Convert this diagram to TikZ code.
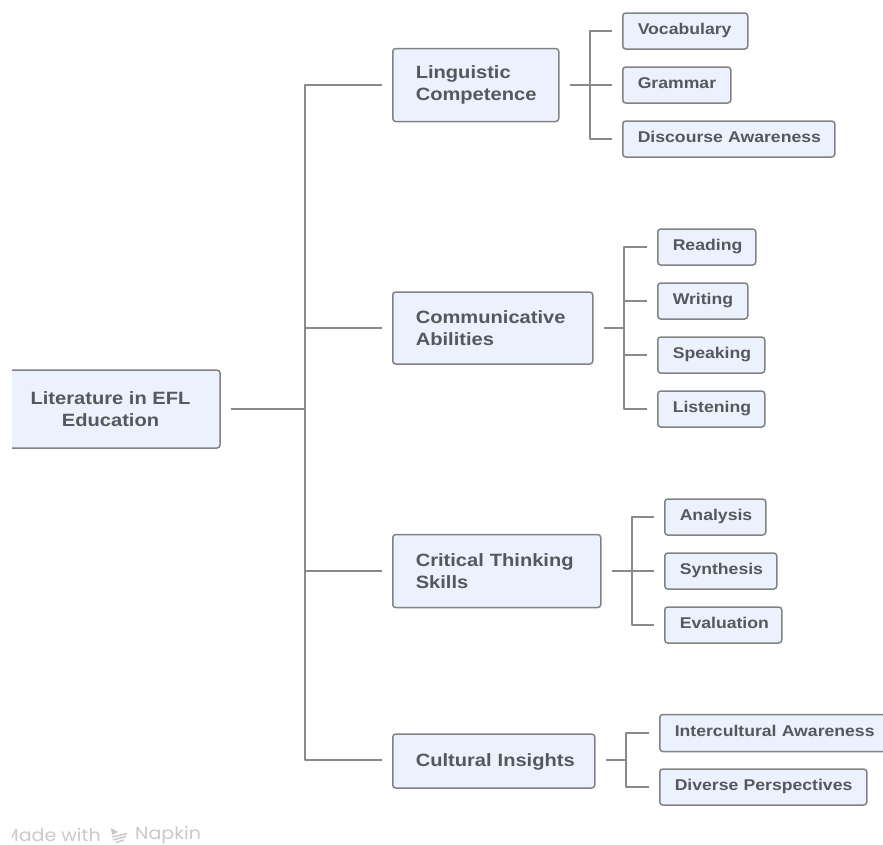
\documentclass[tikz,border=0pt]{standalone}
\usepackage{fontspec}
\setmainfont{Liberation Sans}[FakeStretch=1.13]
\newfontfamily\brandfont{Poppins}[FakeStretch=1.1]
\definecolor{boxfill}{HTML}{EBF1FD}
\definecolor{boxline}{HTML}{808284}
\definecolor{conn}{HTML}{8A8A8A}
\definecolor{ink}{HTML}{55585C}
\definecolor{brandgray}{HTML}{C9C9C9}
\tikzset{
  bx/.style={draw=boxline,fill=boxfill,line width=1.5pt,rounded corners=3pt,text=ink,inner sep=0pt,anchor=west,align=left},
  bigbox/.style 2 args={bx,minimum width=#1,minimum height=#2,font=\fontsize{17.8}{22}\selectfont\bfseries},
  leafbox/.style 2 args={bx,minimum width=#1,minimum height=#2,text width=#1-30pt,text height=12pt,text depth=5pt,font=\fontsize{15.6}{18}\selectfont\bfseries},
  wire/.style={draw=conn,line width=1.7pt,line join=round},
  brand/.style={inner sep=0pt,text=brandgray,font=\brandfont\fontsize{17.3}{19}\selectfont},
}
\begin{document}
\begin{tikzpicture}[x=1pt,y=-1pt]
\useasboundingbox (0,0) rectangle (883,844);
\begin{scope}
\clip (12,0) rectangle (883,844);
\node[bigbox={219pt}{78pt},align=center,anchor=center] (root) at (110.5,409) {Literature in EFL\\Education};
\node[bigbox={166pt}{73pt},text width=120pt] (ling) at (392,85) {Linguistic\\Competence};
\node[bigbox={200pt}{72pt},text width=154pt] (comm) at (392,328) {Communicative\\Abilities};
\node[bigbox={208pt}{73pt},text width=162pt] (crit) at (392,571) {\mbox{Critical Thinking}\\Skills};
\node[bigbox={202pt}{54pt},text width=156pt,text height=15pt,text depth=4pt] (cult) at (392,761) {\mbox{Cultural Insights}};
\node[leafbox={125pt}{36pt}] (voc) at (622,31) {Vocabulary};
\node[leafbox={108pt}{36pt}] (gram) at (622,85) {Grammar};
\node[leafbox={212pt}{36pt}] (disc) at (622,139) {\mbox{Discourse Awareness}};
\node[leafbox={98pt}{36pt}] (read) at (657,247) {Reading};
\node[leafbox={90pt}{36pt}] (writ) at (657,301) {Writing};
\node[leafbox={107pt}{36pt}] (spea) at (657,355) {Speaking};
\node[leafbox={107pt}{36pt}] (list) at (657,409) {Listening};
\node[leafbox={101pt}{36pt}] (anal) at (664,517) {Analysis};
\node[leafbox={112pt}{36pt}] (synt) at (664,571) {Synthesis};
\node[leafbox={117pt}{36pt}] (eval) at (664,625) {Evaluation};
\node[leafbox={231pt}{37pt}] (inte) at (659,733) {\mbox{Intercultural Awareness}};
\node[leafbox={207pt}{36pt}] (dive) at (659,787) {\mbox{Diverse Perspectives}};
\coordinate (trunk) at (305,409);
\coordinate (lingb) at (590,85);
\coordinate (commb) at (624,328);
\coordinate (critb) at (632,571);
\coordinate (cultb) at (626,760);
\coordinate (cultl) at ([xshift=-10pt]cult.west);
\coordinate (cultr) at ([xshift=10pt]cult.east);
\draw[wire] ([xshift=10pt]root.east) -- (trunk);
\draw[wire] ([xshift=-10pt]ling.west) -- (ling.west -| trunk) -- (cultb -| trunk) -- (cultb -| cultl);
\draw[wire] ([xshift=-10pt]comm.west) -- (comm.west -| trunk);
\draw[wire] ([xshift=-10pt]crit.west) -- (crit.west -| trunk);
\draw[wire] ([xshift=10pt]ling.east) -- (lingb);
\draw[wire] ([xshift=10pt]comm.east) -- (commb);
\draw[wire] ([xshift=10pt]crit.east) -- (critb);
\draw[wire] (cultb -| cultr) -- (cultb);
\draw[wire] ([xshift=-10pt]voc.west) -- (voc.west -| lingb) -- (disc.west -| lingb) -- ([xshift=-10pt]disc.west);
\draw[wire] (lingb) -- ([xshift=-10pt]gram.west);
\draw[wire] ([xshift=-10pt]read.west) -- (read.west -| commb) -- (list.west -| commb) -- ([xshift=-10pt]list.west);
\draw[wire] ([xshift=-10pt]writ.west) -- (writ.west -| commb);
\draw[wire] ([xshift=-10pt]spea.west) -- (spea.west -| commb);
\draw[wire] ([xshift=-10pt]anal.west) -- (anal.west -| critb) -- (eval.west -| critb) -- ([xshift=-10pt]eval.west);
\draw[wire] ([xshift=-10pt]synt.west) -- (synt.west -| critb);
\draw[wire] ([xshift=-10pt]inte.west) -- (inte.west -| cultb) -- (dive.west -| cultb) -- ([xshift=-10pt]dive.west);
\node[brand,anchor=east] (made) at (101,835) {Made with};
\node[brand,anchor=west] (napkin) at (135,835) {Napkin};
\fill[brandgray] (111,828) -- (118,832) -- (112,835) -- cycle;
\draw[brandgray,line width=1.5pt] (112,837) -- (127,833.5);
\draw[brandgray,line width=1.5pt] (113,840) -- (126,836.5);
\draw[brandgray,line width=1.5pt] (116,842.5) -- (124,840);
\end{scope}
\end{tikzpicture}
\end{document}
